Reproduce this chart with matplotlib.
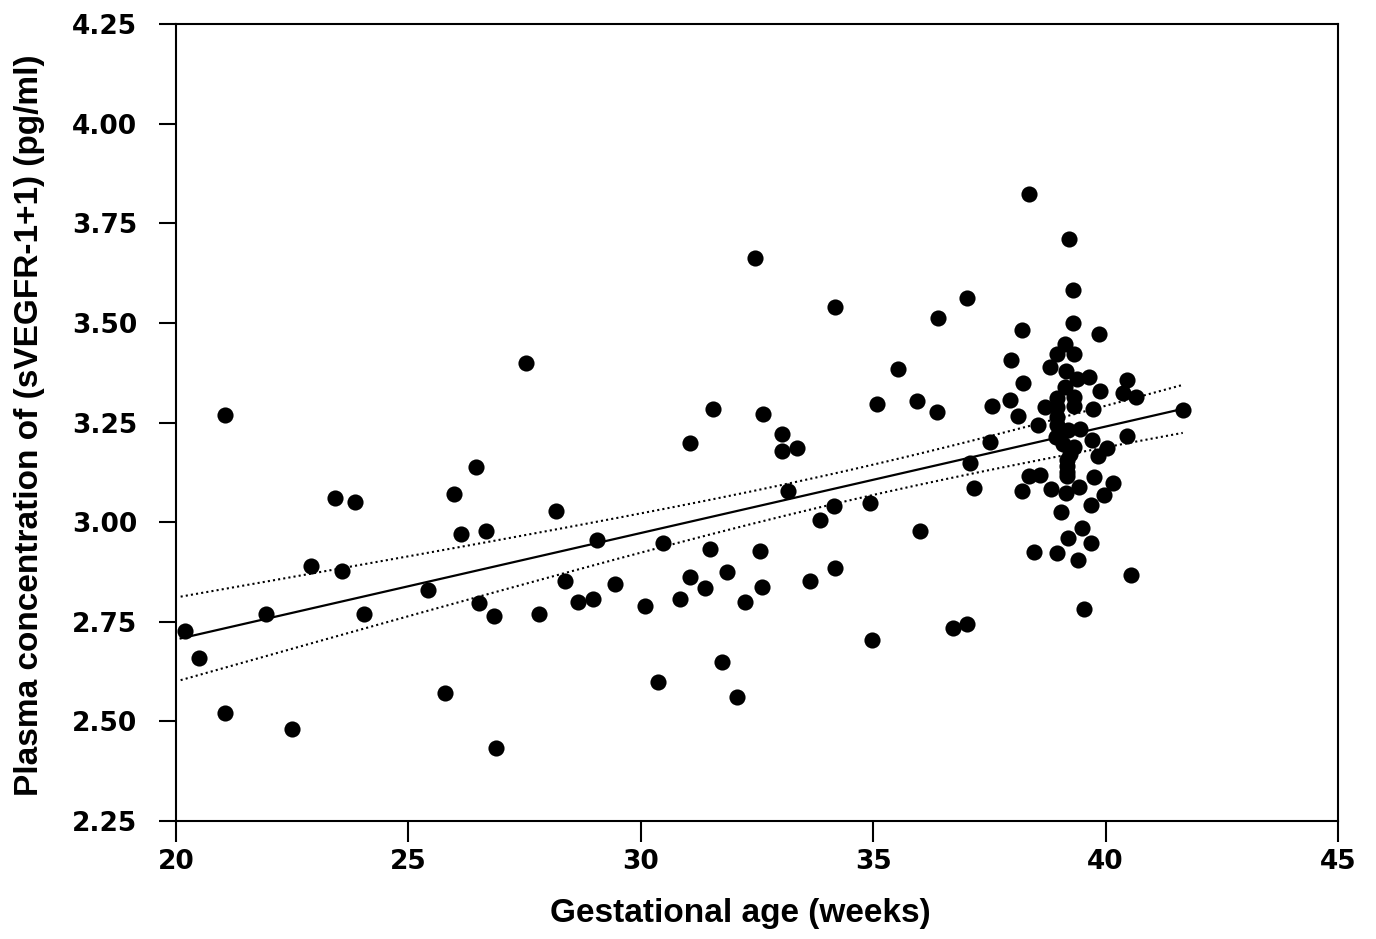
import numpy as np
import matplotlib
matplotlib.use("Agg")
from matplotlib import pyplot as plt

# gestational age (weeks) and log plasma sVEGFR-1 values
age = [20.2, 20.5, 21.05, 21.05, 21.94, 22.5, 22.9, 23.42, 23.57, 23.85,
       24.04, 25.42, 25.79, 25.98, 26.13, 26.45, 26.52, 26.67, 26.84, 26.88,
       27.53, 27.81, 28.18, 28.37, 28.65, 28.97, 29.06, 29.44, 30.09, 30.37,
       30.48, 30.84, 31.06, 31.06, 31.38, 31.49, 31.55, 31.75, 31.85, 32.07,
       32.24, 32.46, 32.56, 32.61, 32.63, 33.04, 33.04, 33.17, 33.36, 33.64,
       33.86, 34.16, 34.18, 34.18, 34.93, 34.97, 35.08, 35.53, 35.94, 36.0,
       36.37, 36.39, 36.72, 37.02, 37.02, 37.08, 37.17, 37.51, 37.56, 37.96,
       38.36, 39.21, 39.30, 39.30, 38.21, 39.86, 39.13, 38.95, 39.32, 38.80,
       39.14, 38.23, 39.38, 39.65, 39.13, 40.45, 38.95, 39.32, 39.88, 40.38,
       40.65, 37.94, 38.70, 38.95, 39.32, 39.73, 41.66, 38.12, 38.95, 38.55,
       38.95, 39.45, 39.18, 38.93, 40.45, 39.70, 39.08, 39.32, 40.02, 39.23,
       39.84, 39.16, 39.16, 39.16, 39.16, 38.36, 38.59, 39.75, 40.15, 38.20,
       38.82, 39.14, 39.43, 39.97, 39.69, 39.04, 39.49, 39.18, 39.68, 38.46,
       38.96, 39.41, 40.55, 39.54]
conc = [2.727, 2.66, 3.27, 2.52, 2.77, 2.48, 2.89, 3.06, 2.877, 3.05,
        2.77, 2.83, 2.57, 3.07, 2.97, 3.138, 2.797, 2.978, 2.764, 2.433,
        3.399, 2.77, 3.028, 2.852, 2.80, 2.807, 2.955, 2.845, 2.79, 2.60,
        2.948, 2.807, 3.199, 2.862, 2.835, 2.933, 3.284, 2.649, 2.875, 2.561,
        2.80, 3.663, 2.928, 2.837, 3.271, 3.221, 3.178, 3.078, 3.186, 2.852,
        3.005, 3.04, 3.54, 2.885, 3.048, 2.704, 3.296, 3.384, 3.304, 2.978,
        3.276, 3.512, 2.734, 3.562, 2.744, 3.148, 3.086, 3.201, 3.291, 3.407,
        3.823, 3.71, 3.582, 3.50, 3.483, 3.473, 3.446, 3.422, 3.422, 3.39,
        3.379, 3.35, 3.358, 3.363, 3.34, 3.357, 3.312, 3.315, 3.33, 3.323,
        3.315, 3.306, 3.288, 3.288, 3.291, 3.285, 3.281, 3.266, 3.264, 3.244,
        3.244, 3.233, 3.231, 3.214, 3.216, 3.207, 3.197, 3.189, 3.187, 3.172,
        3.166, 3.156, 3.141, 3.127, 3.116, 3.116, 3.118, 3.114, 3.099, 3.079,
        3.082, 3.072, 3.089, 3.068, 3.044, 3.026, 2.984, 2.959, 2.948, 2.926,
        2.923, 2.905, 2.867, 2.781]

xticks = [20, 25, 30, 35, 40, 45]
yticks = [2.25, 2.50, 2.75, 3.00, 3.25, 3.50, 3.75, 4.00, 4.25]

x = np.array(age)
y = np.array(conc)

# linear fit with 95% confidence band for the mean
b, a = np.polyfit(x, y, 1)
n = len(x)
resid = y - (a + b * x)
s = np.sqrt(np.sum(resid**2) / (n - 2))
xx = np.linspace(x.min() - 0.1, x.max(), 200)
yy = a + b * xx
se = s * np.sqrt(1 / n + (xx - x.mean())**2 / np.sum((x - x.mean())**2))
t = 1.98

fig = plt.figure(figsize=(13.76, 9.39), dpi=100)
ax = fig.add_axes([0.1279, 0.1257, 0.8445, 0.8487])

ax.scatter(x, y, s=135, color='black', zorder=3, linewidths=0)
ax.plot(xx, yy, color='black', lw=1.6)
ax.plot(xx, yy + t * se, color='black', lw=1.5, ls=(0, (1, 1.5)))
ax.plot(xx, yy - t * se, color='black', lw=1.5, ls=(0, (1, 1.5)))

ax.set_xlim(20, 45)
ax.set_ylim(2.25, 4.25)
ax.set_xticks(xticks)
ax.set_yticks(yticks)
ax.set_xticklabels([str(v) for v in xticks])
ax.set_yticklabels(['%.2f' % v for v in yticks])

for sp in ax.spines.values():
    sp.set_linewidth(1.5)
ax.tick_params(axis='y', length=12, width=1.5, pad=16)
ax.tick_params(axis='x', length=15, width=1.5, pad=5)
for lab in ax.get_xticklabels() + ax.get_yticklabels():
    lab.set_family('DejaVu Sans')
    lab.set_fontweight('bold')
    lab.set_fontsize(19)

ax.set_xlabel('Gestational age (weeks)', family='Liberation Sans', fontsize=24,
              fontweight='bold')
ax.set_ylabel('Plasma concentration of (sVEGFR-1+1) (pg/ml)', family='Liberation Sans',
              fontsize=24, fontweight='bold')
ax.xaxis.set_label_coords(0.4858, -0.097)
ax.yaxis.set_label_coords(-0.113, 0.496)

fig.savefig('out.png', dpi=100)
